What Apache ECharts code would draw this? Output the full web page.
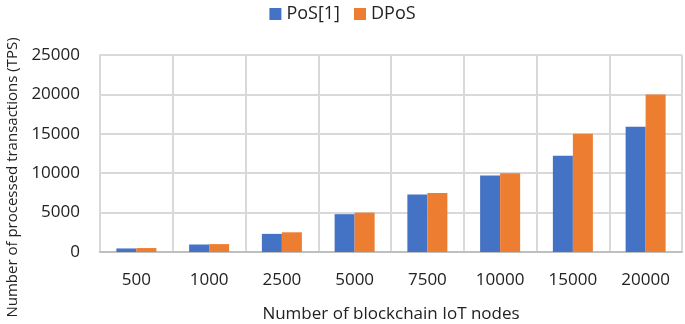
<!DOCTYPE html>
<html>
<head>
<meta charset="utf-8">
<script src="https://cdn.jsdelivr.net/npm/echarts@6/dist/echarts.min.js"></script>
<style>
	html, body { margin: 0; padding: 0; background: #fff; }
	#chart { width: 685px; height: 324px; }
</style>
</head>
<body>
<div id="chart"></div>
<script>
let nodes = ['500', '1000', '2500', '5000', '7500', '10000', '15000', '20000'];
let pos = [450, 950, 2300, 4800, 7300, 9700, 12200, 15900];
let dpos = [500, 1000, 2500, 5000, 7500, 10000, 15000, 20000];
let yTicks = [0, 5000, 10000, 15000, 20000, 25000];

let myChart = echarts.init(document.getElementById('chart'));
let font = '"Open Sans", sans-serif';

let option = {
	animation: false,
	textStyle: { fontFamily: font },
	legend: {
		top: 0,
		left: 'center',
		itemWidth: 12,
		itemHeight: 12,
		itemGap: 14,
		icon: 'rect',
		textStyle: { fontSize: 18, color: '#222', fontFamily: font },
		data: ['PoS[1]', 'DPoS']
	},
	grid: {
		left: 100,
		right: 3,
		top: 55,
		bottom: 72,
		containLabel: false,
		outerBoundsMode: 'none'
	},
	xAxis: {
		type: 'category',
		data: nodes,
		name: 'Number of blockchain IoT nodes',
		nameLocation: 'middle',
		nameGap: 54,
		nameTextStyle: { fontSize: 17, color: '#222', fontFamily: font },
		axisTick: { show: false },
		axisLine: { lineStyle: { color: '#bfbfbf', width: 2 } },
		axisLabel: { fontSize: 17, color: '#222', margin: 20, fontFamily: font },
		splitLine: { show: true, lineStyle: { color: '#d9d9d9', width: 2 } }
	},
	yAxis: {
		type: 'value',
		min: yTicks[0],
		max: yTicks[yTicks.length - 1],
		interval: yTicks[1] - yTicks[0],
		name: 'Number of processed transactions (TPS)',
		nameLocation: 'middle',
		nameGap: 78,
		nameTextStyle: { fontSize: 15, color: '#222', fontFamily: font, padding: [0, 48, 0, 0] },
		axisLine: { show: true, lineStyle: { color: '#d9d9d9', width: 2 } },
		axisTick: { show: false },
		axisLabel: {
			fontSize: 17, color: '#222', margin: 20, fontFamily: font,
			formatter: v => String(v)
		},
		splitLine: { show: true, lineStyle: { color: '#d9d9d9', width: 2 } }
	},
	series: [{
		name: 'PoS[1]',
		type: 'bar',
		data: pos,
		barGap: '0%',
		barCategoryGap: '45%',
		itemStyle: { color: '#4472c4' }
	}, {
		name: 'DPoS',
		type: 'bar',
		data: dpos,
		itemStyle: { color: '#ed7d31' }
	}]
};
myChart.setOption(option);
</script>
</body>
</html>
